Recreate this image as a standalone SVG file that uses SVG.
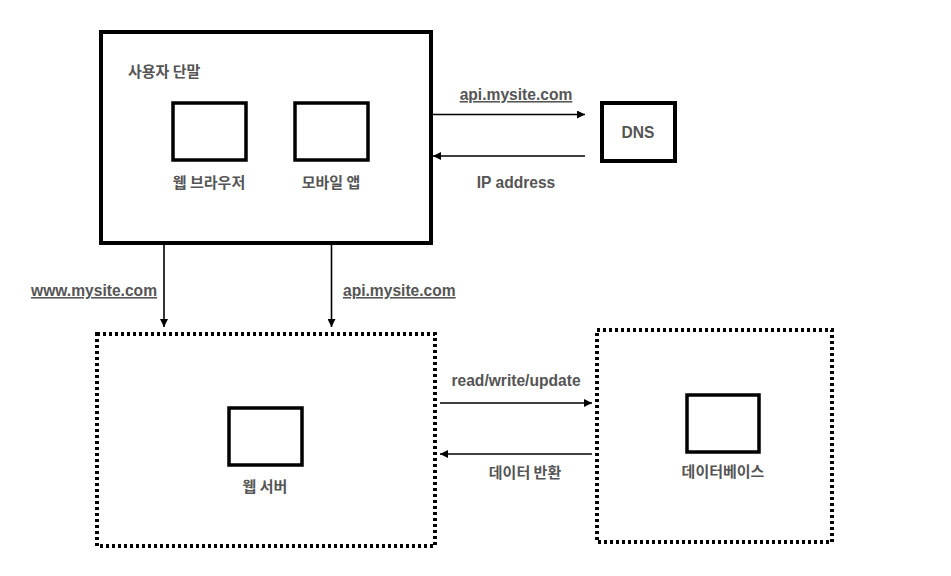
<svg xmlns="http://www.w3.org/2000/svg" width="951" height="576" viewBox="0 0 951 576">
<defs>
<marker id="ah" viewBox="0 0 10 10" refX="10" refY="5" markerWidth="8" markerHeight="8" markerUnits="userSpaceOnUse" orient="auto">
<path d="M0,0 L10,5 L0,10 z" fill="#000"/>
</marker>
<style>
.solid{fill:#fff;stroke:#000;stroke-width:4}
.inner{fill:#fff;stroke:#000;stroke-width:3.5}
.dotted{fill:#fff;stroke:#000;stroke-width:4;stroke-dasharray:3 3}
.lbl{font-family:"Liberation Sans","Noto Sans CJK KR",sans-serif;font-weight:bold;font-size:15.6px;fill:#555}
.kr{font-family:"Noto Sans CJK KR","Liberation Sans",sans-serif;font-weight:bold;font-size:15px;fill:#555}
.link{text-decoration:underline}
.conn{stroke:#000;stroke-width:1.6;fill:none;marker-end:url(#ah)}
</style>
</defs>
<rect width="951" height="576" fill="#fff"/>
<g id="user-device">
<rect class="solid" x="101" y="32" width="330" height="211"/>
<text class="kr" x="128" y="77">사용자 단말</text>
</g>
<g id="web-browser">
<rect class="inner" x="173" y="103" width="73" height="57"/>
<text class="kr" x="209" y="188" text-anchor="middle">웹 브라우저</text>
</g>
<g id="mobile-app">
<rect class="inner" x="295" y="103" width="73" height="57"/>
<text class="kr" x="331" y="188" text-anchor="middle">모바일 앱</text>
</g>
<g id="dns">
<rect class="solid" x="602" y="103" width="73" height="58"/>
<text class="lbl" x="638" y="138" text-anchor="middle">DNS</text>
</g>
<g id="web-server-group">
<rect class="dotted" x="97" y="334" width="338" height="212"/>
</g>
<g id="web-server">
<rect class="inner" x="229" y="408" width="73" height="57"/>
<text class="kr" x="265" y="492" text-anchor="middle">웹 서버</text>
</g>
<g id="database-group">
<rect class="dotted" x="597" y="330" width="235" height="212"/>
</g>
<g id="database">
<rect class="inner" x="687" y="395" width="72" height="57"/>
<text class="kr" x="723" y="477" text-anchor="middle">데이터베이스</text>
</g>
<g id="connectors">
<line class="conn" x1="433" y1="114.5" x2="585" y2="114.5"/>
<line class="conn" x1="585" y1="156" x2="433" y2="156"/>
<line class="conn" x1="164" y1="243" x2="164" y2="327"/>
<line class="conn" x1="331.5" y1="243" x2="331.5" y2="327"/>
<line class="conn" x1="440" y1="403" x2="592" y2="403"/>
<line class="conn" x1="592" y1="454" x2="440" y2="454"/>
<text class="lbl link" x="516" y="100" text-anchor="middle">api.mysite.com</text>
<text class="lbl" x="516" y="188" text-anchor="middle">IP address</text>
<text class="lbl link" x="157" y="296" text-anchor="end">www.mysite.com</text>
<text class="lbl link" x="343" y="296">api.mysite.com</text>
<text class="lbl" x="516" y="386" text-anchor="middle">read/write/update</text>
<text class="kr" x="525" y="478" text-anchor="middle">데이터 반환</text>
</g>
</svg>
